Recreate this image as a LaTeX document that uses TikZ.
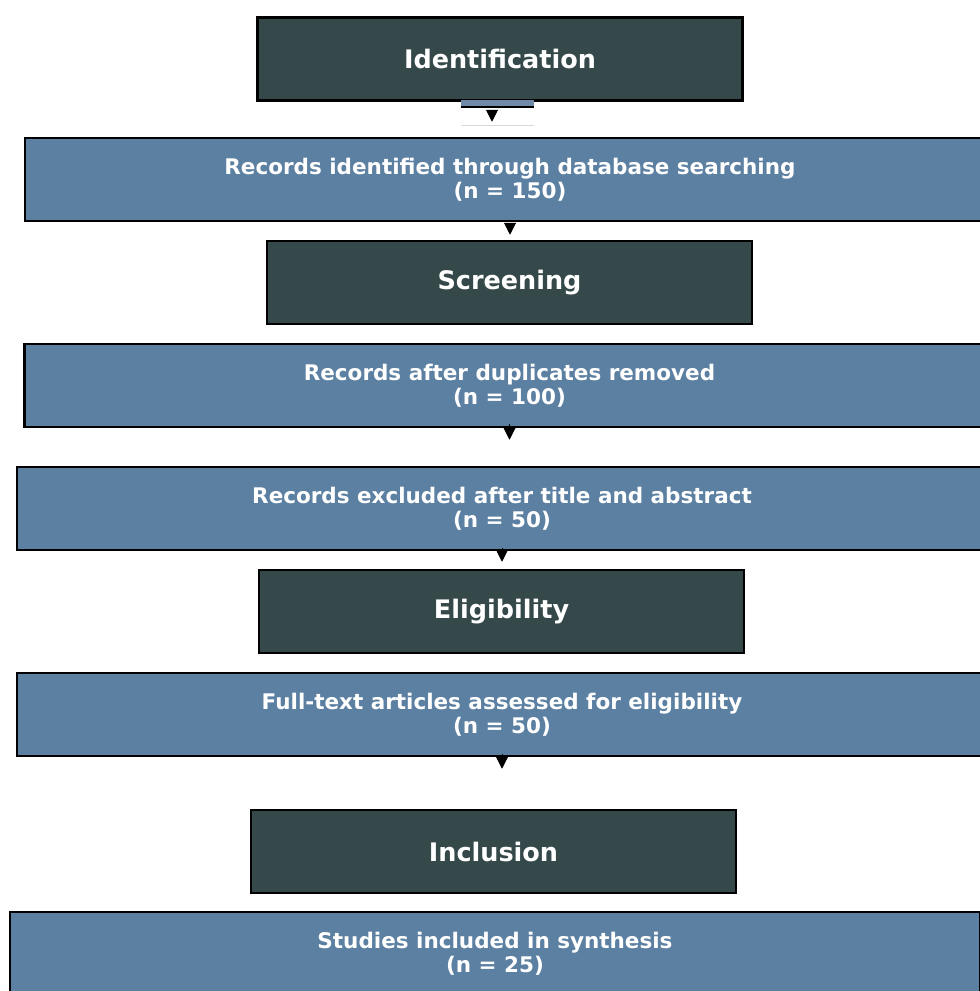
\documentclass[tikz,border=0pt]{standalone}
\usepackage{fontspec}
\setmainfont{DejaVu Sans}
\usetikzlibrary{arrows.meta}

\definecolor{stage}{RGB}{53,72,74}
\definecolor{steel}{RGB}{92,128,162}
\definecolor{tabfill}{RGB}{110,138,168}

\begin{document}
\begin{tikzpicture}[x=1pt,y=-1pt,>={Triangle[width=12pt,length=12pt]},
  stage/.style={draw=black,line width=2.5pt,fill=stage,text=white,minimum width=485pt,minimum height=83pt,font=\fontsize{25.5}{28}\selectfont\bfseries},
  record/.style={draw=black,line width=2.5pt,fill=steel,text=white,minimum width=970pt,minimum height=83pt,align=center,font=\fontsize{21.5}{24.5}\selectfont\bfseries},
  arr/.style={->,line width=1pt}]
  \useasboundingbox (0,0) rectangle (980,991);
  \clip (0,0) rectangle (980,991);
  \node[stage] (ident) at (500,59) {Identification};
  \fill[tabfill] (461,100) rectangle (534,106);
  \draw[line width=2pt] (461,107) -- (534,107);
  \draw[black!15] (461,125) -- (534,125);
  \node[record] (found) at (510,179.5) {Records identified through database searching\\(n = 150)};
  \node[stage] (screen) at (509.5,282.5) {Screening};
  \node[record] (dedup) at (509.5,385.5) {Records after duplicates removed\\(n = 100)};
  \node[record] (excl) at (502,508.5) {Records excluded after title and abstract\\(n = 50)};
  \node[stage] (elig) at (501.5,611.5) {Eligibility};
  \node[record] (full) at (502,714.5) {Full-text articles assessed for eligibility\\(n = 50)};
  \node[stage] (incl) at (493.5,851.5) {Inclusion};
  \node[record] (synth) at (495,953.5) {Studies included in synthesis\\(n = 25)};
  % short arrows between the steps
  \draw[arr,shorten <=8pt,shorten >=15pt] ([xshift=-8pt]ident.south) -- ([xshift=-8pt]ident.south |- found.north);
  \draw[arr,shorten <=3pt,shorten >=5pt] (found.south) -- (found.south |- screen.north);
  \draw[arr,shorten <=4pt,shorten >=26pt] (dedup.south) -- (dedup.south |- excl.north);
  \draw[arr,shorten <=3pt,shorten >=7pt] (excl.south) -- (excl.south |- elig.north);
  \draw[arr,shorten <=3pt,shorten >=40pt] (full.south) -- (full.south |- incl.north);
\end{tikzpicture}
\end{document}
